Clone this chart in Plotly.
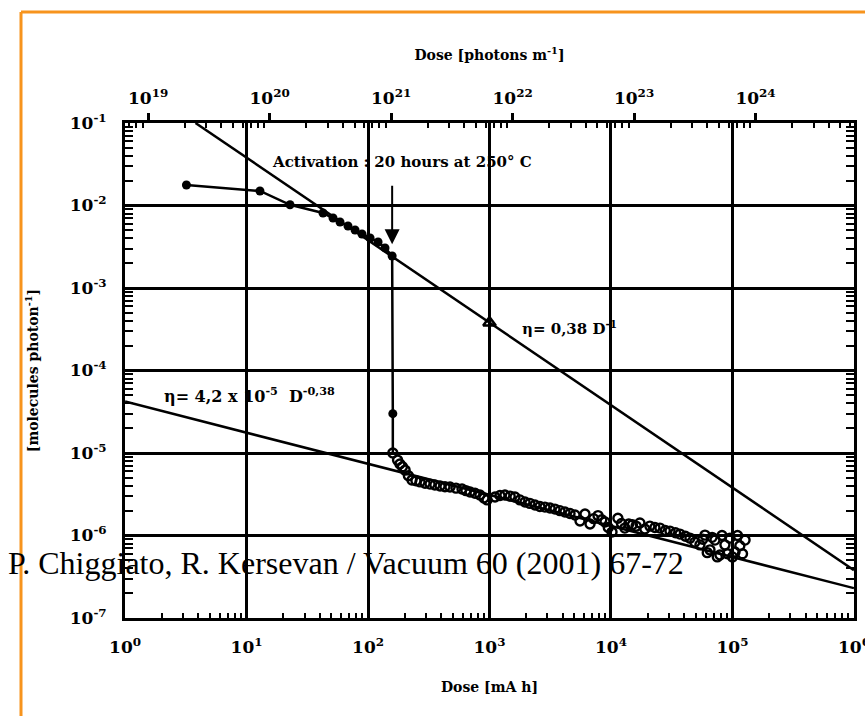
import math
import plotly.graph_objects as go

# ---------------- data ----------------
# before activation (filled circles), dose in mA h, yield in molecules/photon
pre_x = [3.2, 12.9, 22.8, 42.6, 51.5, 58.8, 68.4, 78.2, 89.2, 104, 121, 138, 158, 160]
pre_y = [1.77e-2, 1.5e-2, 1.02e-2, 8.1e-3, 7.05e-3, 6.3e-3, 5.65e-3, 5.05e-3, 4.52e-3,
         4.04e-3, 3.61e-3, 3.06e-3, 2.44e-3, 3.0e-5]

# after activation (open circles)
post_x = [160, 175, 183, 192, 202, 215, 230, 248, 268, 295, 324, 355, 392, 430, 473, 530,
          594, 640, 692, 760, 834, 900, 955, 1110, 1220, 1340, 1480, 1620, 1780,
          1960, 2150, 2370, 2600, 2860, 3150, 3460, 3800, 4180, 4600, 5060, 5560, 6110,
          6720, 7200, 7820, 8400, 8930, 9500, 10200, 11400, 12200,
          13000, 14000, 15000, 16100, 17300, 19000, 20900, 23000, 25300, 28000, 30600,
          34000, 37000, 41000, 44700, 49000, 54000, 57000, 59400, 62000, 65300, 68000,
          71800, 75000, 78900, 82000, 86700, 91000, 95300, 100000, 105000, 110000,
          115000, 121000, 127000]
post_y = [1.0e-5, 8.2e-6, 7.36e-6, 6.8e-6, 6.2e-6, 5.3e-6, 4.7e-6, 4.6e-6, 4.47e-6, 4.3e-6,
          4.2e-6, 4.1e-6, 3.98e-6, 3.9e-6, 3.87e-6, 3.75e-6,
          3.66e-6, 3.5e-6, 3.37e-6, 3.25e-6, 3.1e-6, 2.85e-6, 2.7e-6, 2.93e-6, 3.05e-6,
          3.1e-6, 3.0e-6, 2.93e-6, 2.7e-6,
          2.55e-6, 2.45e-6, 2.34e-6, 2.25e-6, 2.21e-6, 2.15e-6, 2.09e-6, 2.0e-6, 1.93e-6,
          1.85e-6, 1.77e-6, 1.5e-6, 1.82e-6,
          1.38e-6, 1.6e-6, 1.74e-6, 1.55e-6, 1.46e-6, 1.25e-6, 1.1e-6, 1.62e-6, 1.4e-6,
          1.23e-6, 1.38e-6, 1.35e-6, 1.3e-6, 1.42e-6, 1.2e-6, 1.3e-6, 1.25e-6, 1.23e-6,
          1.15e-6, 1.13e-6,
          1.08e-6, 1.04e-6, 9.8e-7, 9.3e-7, 8.3e-7, 7.7e-7, 9.0e-7, 1.01e-6, 6.2e-7, 6.7e-7,
          9.5e-7, 8.8e-7, 5.5e-7, 5.8e-7, 1.0e-6, 7.7e-7, 6.0e-7, 9.3e-7, 5.5e-7, 6.3e-7,
          1.0e-6, 7.5e-7, 6.0e-7, 8.8e-7]

# reference point (triangle)
ref_x = [1000]
ref_y = [3.8e-4]

# fitted lines, endpoints
fit_hi_x = [3.8, 1e6]
fit_hi_y = [0.1, 3.8e-7]
fit_lo_x = [1, 1e6]
fit_lo_y = [4.2e-5, 2.3e-7]

# axes tick labels
bottom_ticks = [1, 10, 100, 1e3, 1e4, 1e5, 1e6]
bottom_text = ["10<sup>0</sup>", "10<sup>1</sup>", "10<sup>2</sup>", "10<sup>3</sup>",
               "10<sup>4</sup>", "10<sup>5</sup>", "10<sup>6</sup>"]
left_ticks = [1e-1, 1e-2, 1e-3, 1e-4, 1e-5, 1e-6, 1e-7]
left_text = ["10<sup>-1</sup>", "10<sup>-2</sup>", "10<sup>-3</sup>", "10<sup>-4</sup>",
             "10<sup>-5</sup>", "10<sup>-6</sup>", "10<sup>-7</sup>"]
top_ticks = [1e19, 1e20, 1e21, 1e22, 1e23, 1e24]
top_text = ["10<sup>19</sup>", "10<sup>20</sup>", "10<sup>21</sup>", "10<sup>22</sup>",
            "10<sup>23</sup>", "10<sup>24</sup>"]

FONT = "DejaVu Serif"
CITE_FONT = "Liberation Serif"
BLK = "black"


def minor_vals(decades):
    return [m * d for d in decades for m in range(2, 10)]


bottom_minor = minor_vals(bottom_ticks[:-1])
left_minor = minor_vals(left_ticks[1:])
top_minor = minor_vals([1e18] + top_ticks)

fig = go.Figure()

fig.add_trace(go.Scatter(x=fit_hi_x, y=fit_hi_y, mode="lines",
                         line=dict(color=BLK, width=2.5), hoverinfo="skip"))
fig.add_trace(go.Scatter(x=fit_lo_x, y=fit_lo_y, mode="lines",
                         line=dict(color=BLK, width=2.5), hoverinfo="skip"))

fig.add_trace(go.Scatter(x=pre_x + [post_x[0]], y=pre_y + [post_y[0]], mode="lines",
                         line=dict(color=BLK, width=2.5), hoverinfo="skip"))
fig.add_trace(go.Scatter(x=pre_x, y=pre_y, mode="markers",
                         marker=dict(symbol="circle", size=9, color=BLK)))
fig.add_trace(go.Scatter(x=post_x, y=post_y, mode="markers",
                         marker=dict(symbol="circle-open", size=9, color=BLK,
                                     line=dict(width=2.4, color=BLK))))
fig.add_trace(go.Scatter(x=ref_x, y=ref_y, mode="markers",
                         marker=dict(symbol="triangle-up-open", size=11, color=BLK,
                                     line=dict(width=2.5, color=BLK))))
# carrier trace for top axis
fig.add_trace(go.Scatter(x=[top_ticks[0], top_ticks[-1]], y=[1e-3, 1e-3], xaxis="x2",
                         mode="markers", marker=dict(opacity=0), hoverinfo="skip"))

tickfont = dict(family=FONT, size=17, color=BLK, weight="bold")
axis_common = dict(
    type="log", showgrid=True, gridcolor=BLK, gridwidth=3, automargin=False,
    showline=True, linecolor=BLK, linewidth=3,
    ticks="inside", ticklen=8, tickwidth=2.5, tickcolor=BLK,
    tickfont=tickfont, ticklabeloverflow="allow",
)

fig.update_layout(
    width=865, height=716,
    margin=dict(l=125, r=11, t=123, b=98),
    paper_bgcolor="white", plot_bgcolor="white",
    showlegend=False,
    font=dict(family=FONT, color=BLK),
    xaxis=dict(axis_common, range=[-0.0005, 6.0005], tickvals=bottom_ticks,
               ticktext=bottom_text, mirror=True, ticklabelstandoff=12,
               minor=dict(tickmode="array", tickvals=bottom_minor, ticks="inside",
                          ticklen=5, tickwidth=2, tickcolor=BLK, showgrid=False),
               title=dict(text="<b>Dose [mA h]</b>", font=dict(size=14, family=FONT),
                          standoff=26)),
    xaxis2=dict(type="log", overlaying="x", side="top", anchor="y", automargin=False,
                range=[18.8095, 24.8105], tickvals=top_ticks, ticktext=top_text,
                showgrid=False, showline=False, ticklabeloverflow="allow",
                ticks="outside", ticklen=9, tickwidth=2.5, tickcolor=BLK,
                tickfont=tickfont, ticklabelstandoff=2,
                minor=dict(tickmode="array", tickvals=top_minor, ticks="inside",
                           ticklen=5, tickwidth=2, tickcolor=BLK, showgrid=False),
                title=dict(text="<b>Dose [photons m<sup>-1</sup>]</b>",
                           font=dict(size=14, family=FONT), standoff=22)),
    yaxis=dict(axis_common, range=[-7, -1], tickvals=left_ticks, ticktext=left_text,
               mirror="allticks", ticklabelstandoff=12,
               minor=dict(tickmode="array", tickvals=left_minor, ticks="inside",
                          ticklen=5, tickwidth=2, tickcolor=BLK, showgrid=False),
               title=dict(text="<b>[molecules photon<sup>-1</sup>]</b>",
                          font=dict(size=14, family=FONT), standoff=28)),
)

L = math.log10
fig.add_annotation(x=L(158), y=L(3.4e-3), xref="x", yref="y", ax=0, ay=-60,
                   text="", showarrow=True, arrowhead=2, arrowsize=1.5, arrowwidth=2,
                   arrowcolor=BLK)
fig.add_annotation(x=L(15.6), y=L(3.37e-2), xref="x", yref="y", xanchor="left",
                   yanchor="middle", showarrow=False,
                   text="<b>Activation : 20 hours at 250° C</b>",
                   font=dict(family=FONT, size=15, color=BLK))
fig.add_annotation(x=L(1780), y=L(3.3e-4), xref="x", yref="y", xanchor="left",
                   showarrow=False, text="<b>η= 0,38 D<sup>-1</sup></b>",
                   font=dict(family=FONT, size=15, color=BLK))
fig.add_annotation(x=L(2.0), y=L(5.0e-5), xref="x", yref="y", xanchor="left",
                   showarrow=False, text="<b>η= 4,2 x 10<sup>-5</sup>  D<sup>-0,38</sup></b>",
                   font=dict(family=FONT, size=16, color=BLK))

# orange page frame and citation overlay (pixel positions converted to paper)
pw, ph = 729.0, 495.0


def px(xp):
    return (xp - 125) / pw


def py(yp):
    return (618 - yp) / ph


fig.add_annotation(x=px(6), y=py(583), xref="paper", yref="paper", showarrow=False,
                   text="P. Chiggiato, R. Kersevan / Vacuum 60 (2001) 67-72",
                   font=dict(family=CITE_FONT, size=32, color=BLK), xanchor="left")
fig.add_shape(type="line", xref="paper", yref="paper", x0=px(21), x1=px(870),
              y0=py(12), y1=py(12), line=dict(color="#F7941D", width=3))
fig.add_shape(type="line", xref="paper", yref="paper", x0=px(21), x1=px(21),
              y0=py(12), y1=py(720), line=dict(color="#F7941D", width=3))

fig.write_html("out.html")
